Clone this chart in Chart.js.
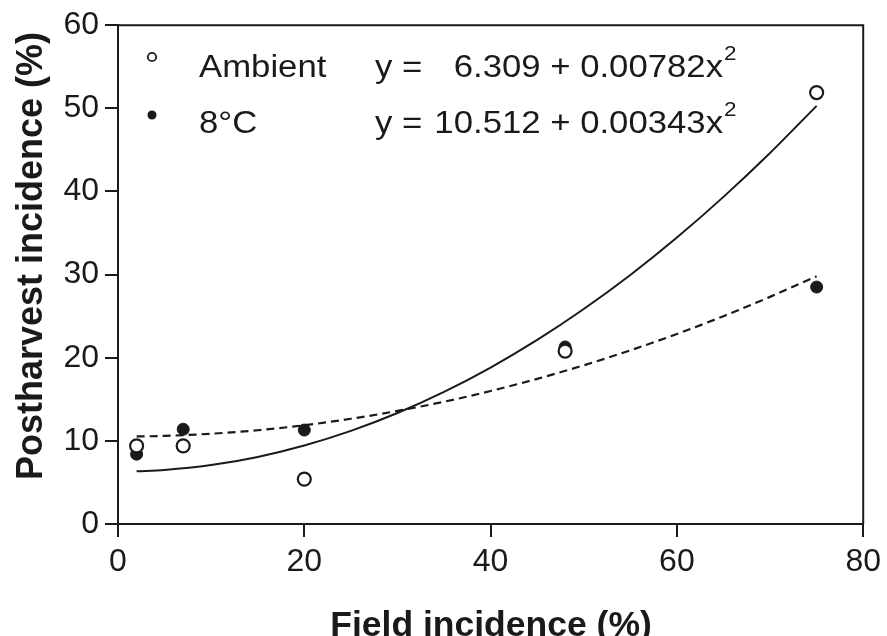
<!DOCTYPE html>
<html>
<head>
<meta charset="utf-8">
<script src="https://cdn.jsdelivr.net/npm/chart.js@4.4.1/dist/chart.umd.min.js"></script>
<style>
  html, body { margin: 0; padding: 0; background: #ffffff; }
  #wrap { width: 887px; height: 636px; position: relative; }
</style>
</head>
<body>
<div id="wrap"><canvas id="c" width="887" height="636"></canvas></div>
<script>
// ---- data ----
const fieldIncidence = [2, 7, 20, 48, 75];
const ambientObserved = [9.4, 9.4, 5.4, 20.8, 51.9];
const coldObserved = [8.4, 11.4, 11.3, 21.3, 28.5];

const fitX = [2, 5, 10, 15, 20, 25, 30, 35, 40, 45, 50, 55, 60, 65, 70, 75];
const ambientFit = [6.34, 6.50, 7.09, 8.07, 9.44, 11.20, 13.35, 15.89, 18.82, 22.14, 25.86, 29.96, 34.46, 39.35, 44.63, 50.30];
const coldFit = [10.53, 10.60, 10.86, 11.28, 11.88, 12.66, 13.60, 14.71, 16.00, 17.46, 19.09, 20.89, 22.86, 25.00, 27.32, 29.81];

const seriesNames = ['Ambient', '8\u00B0C'];
const equationLead = ['y =', 'y ='];
const equationBody = ['6.309 + 0.00782x', '10.512 + 0.00343x'];
const equationPower = ['2', '2'];

const xTitle = 'Field incidence (%)';
const yTitle = 'Postharvest incidence (%)';

const FONT = "'Liberation Sans', Arial, sans-serif";
const INK = '#1a1a1a';

const toXY = (xs, ys) => xs.map((x, i) => ({ x: x, y: ys[i] }));

const framePlugin = {
  id: 'frame',
  afterDatasetsDraw(chart) {
    const { ctx, chartArea: a } = chart;
    ctx.save();
    ctx.strokeStyle = INK;
    ctx.lineWidth = 2;
    ctx.beginPath();
    ctx.moveTo(a.left, a.top);
    ctx.lineTo(a.right, a.top);
    ctx.lineTo(a.right, a.bottom);
    ctx.stroke();
    ctx.restore();
  }
};

const titlesPlugin = {
  id: 'axisTitles',
  afterDraw(chart) {
    const { ctx, chartArea: a } = chart;
    ctx.save();
    ctx.fillStyle = INK;
    ctx.textAlign = 'center';
    ctx.textBaseline = 'alphabetic';
    ctx.font = "bold 35.5px " + FONT;
    ctx.fillText(xTitle, 491, 636);
    ctx.translate(42, 256);
    ctx.rotate(-Math.PI / 2);
    ctx.font = "bold 36px " + FONT;
    ctx.fillText(yTitle, 0, 0);
    ctx.restore();
  }
};

const legendPlugin = {
  id: 'eqLegend',
  afterDraw(chart) {
    const { ctx } = chart;
    const rows = [77, 133];
    const markerY = [57, 115];
    const sx = 1.12;
    ctx.save();
    // markers
    ctx.lineWidth = 1.8;
    ctx.strokeStyle = INK;
    ctx.beginPath();
    ctx.arc(152, markerY[0], 4.2, 0, Math.PI * 2);
    ctx.fillStyle = '#fff';
    ctx.fill();
    ctx.stroke();
    ctx.beginPath();
    ctx.arc(152, markerY[1], 4.5, 0, Math.PI * 2);
    ctx.fillStyle = INK;
    ctx.fill();
    // texts (the reference glyphs are slightly wide, so stretch horizontally)
    ctx.fillStyle = INK;
    ctx.textBaseline = 'alphabetic';
    for (let i = 0; i < 2; i++) {
      const put = (txt, x, y, size, align) => {
        ctx.save();
        ctx.translate(x, y);
        ctx.scale(sx, 1);
        ctx.font = size + "px " + FONT;
        ctx.textAlign = align;
        ctx.fillText(txt, 0, 0);
        ctx.restore();
      };
      put(seriesNames[i], 199, rows[i], 31, 'left');
      put(equationLead[i], 375, rows[i], 31, 'left');
      put(equationBody[i], 723, rows[i], 31, 'right');
      put(equationPower[i], 724, rows[i] - 17, 20, 'left');
    }
    ctx.restore();
  }
};

const axisCommon = {
  type: 'linear',
  border: { display: true, color: INK, width: 2 },
  grid: { display: true, drawOnChartArea: false, drawTicks: true, tickLength: 13, color: INK, lineWidth: 2 },
  ticks: { color: INK, font: { family: FONT, size: 32 }, padding: 6 },
  title: { display: false }
};

new Chart(document.getElementById('c'), {
  type: 'scatter',
  data: {
    datasets: [
      {
        label: 'Ambient fit',
        data: toXY(fitX, ambientFit),
        showLine: true,
        borderColor: INK,
        borderWidth: 2,
        pointRadius: 0,
        cubicInterpolationMode: 'monotone',
        fill: false
      },
      {
        label: '8°C fit',
        data: toXY(fitX, coldFit),
        showLine: true,
        borderColor: INK,
        borderWidth: 2.2,
        borderDash: [8, 5],
        pointRadius: 0,
        cubicInterpolationMode: 'monotone',
        fill: false
      },
      {
        label: seriesNames[0],
        data: toXY(fieldIncidence, ambientObserved),
        showLine: false,
        pointStyle: 'circle',
        pointRadius: 6.5,
        pointBorderWidth: 2.2,
        pointBorderColor: INK,
        pointBackgroundColor: '#ffffff'
      },
      {
        label: seriesNames[1],
        data: toXY(fieldIncidence, coldObserved),
        showLine: false,
        pointStyle: 'circle',
        pointRadius: 6,
        pointBorderWidth: 1,
        pointBorderColor: INK,
        pointBackgroundColor: INK
      }
    ]
  },
  options: {
    responsive: false,
    animation: false,
    devicePixelRatio: 1,
    layout: { padding: { top: 25, right: 21, left: 0, bottom: 0 } },
    plugins: {
      legend: { display: false },
      tooltip: { enabled: false },
      title: { display: false }
    },
    scales: {
      x: Object.assign({}, axisCommon, {
        min: 0, max: 80,
        ticks: Object.assign({}, axisCommon.ticks, { stepSize: 20, maxRotation: 0 }),
        afterFit(scale) { scale.height = 112; }
      }),
      y: Object.assign({}, axisCommon, {
        min: 0, max: 60,
        ticks: Object.assign({}, axisCommon.ticks, { stepSize: 10 }),
        afterFit(scale) { scale.width = 118; }
      })
    }
  },
  plugins: [framePlugin, titlesPlugin, legendPlugin]
});
</script>
</body>
</html>
